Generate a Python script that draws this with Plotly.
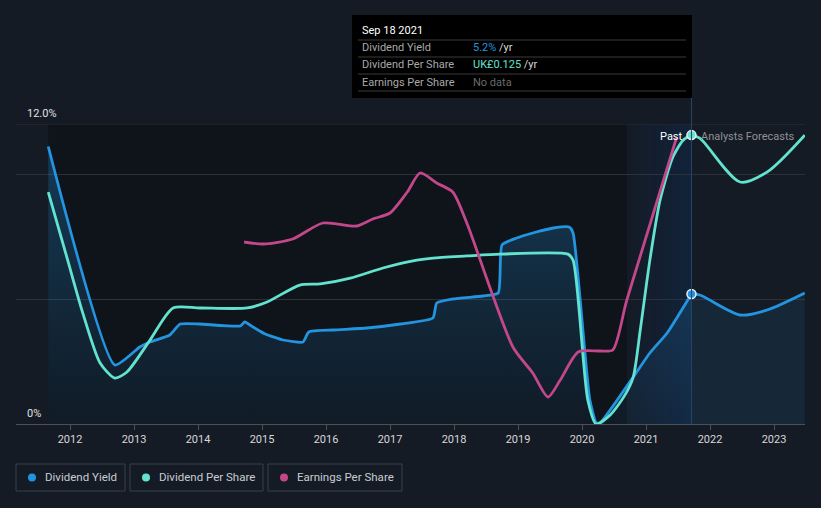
import plotly.graph_objects as go

# ---------------- data ----------------
yield_x = [2011.66, 2012.70, 2013.09, 2013.25, 2013.56, 2013.72, 2014.03, 2014.66, 2014.73, 2014.86,
           2015.05, 2015.33, 2015.64, 2015.73, 2016.11, 2016.64, 2017.16, 2017.67, 2017.73, 2017.98,
           2018.45, 2018.69, 2018.75, 2018.98, 2019.23, 2019.55, 2019.80, 2019.86, 2019.97, 2020.12,
           2020.22, 2020.28, 2020.80, 2021.06, 2021.33, 2021.71]
yield_y = [11.1, 2.36, 3.08, 3.28, 3.56, 4.0, 4.0, 3.92, 4.08, 3.88,
           3.6, 3.36, 3.28, 3.68, 3.76, 3.84, 4.0, 4.24, 4.84, 5.0,
           5.12, 5.24, 7.16, 7.44, 7.64, 7.84, 7.88, 7.64, 5.0, 1.0,
           0.05, 0.04, 1.88, 2.84, 3.64, 5.2]
yield_fc_x = [2021.71, 2021.84, 2022.47, 2022.89, 2023.48]
yield_fc_y = [5.2, 5.16, 4.36, 4.56, 5.24]

dps_x = [2011.66, 2011.95, 2012.20, 2012.47, 2012.70, 2012.89, 2013.25, 2013.61, 2014.03, 2014.77,
         2015.08, 2015.59, 2015.91, 2016.38, 2016.89, 2017.42, 2017.67, 2018.20, 2018.72, 2019.78,
         2019.86, 2020.09, 2020.22, 2020.44, 2020.67, 2020.80, 2020.91, 2021.06, 2021.22, 2021.42,
         2021.58, 2021.71]
dps_y = [0.1003, 0.0722, 0.0480, 0.0264, 0.0199, 0.0225, 0.0363, 0.0502, 0.0502, 0.0502,
         0.0528, 0.0601, 0.0606, 0.0631, 0.0675, 0.0709, 0.0718, 0.0727, 0.0735, 0.0735,
         0.0709, 0.0104, 0.0, 0.0039, 0.0125, 0.0203, 0.0407, 0.0709, 0.0969, 0.1155,
         0.1228, 0.125]
dps_fc_x = [2021.71, 2021.84, 2022.47, 2022.89, 2023.48]
dps_fc_y = [0.125, 0.1237, 0.1047, 0.1090, 0.125]

eps_x = [2014.72, 2015.02, 2015.48, 2015.95, 2016.48, 2016.73, 2017.00, 2017.27, 2017.47, 2017.73,
         2017.98, 2018.20, 2018.92, 2019.23, 2019.47, 2019.66, 2019.94, 2020.28, 2020.48, 2020.70,
         2021.48]
eps_y = [0.182, 0.180, 0.185, 0.201, 0.198, 0.205, 0.211, 0.232, 0.251, 0.241,
         0.232, 0.201, 0.077, 0.051, 0.027, 0.044, 0.072, 0.073, 0.074, 0.124,
         0.287]

years = list(range(2012, 2024))
year_labels = [str(y) for y in years]

now_x = 2021.71
hl_start = 2020.70
data_start = 2011.66

# ---------------- style ----------------
BG = "#151b25"
PAST_BG = "#0f131a"
BLUE = "#2394df"
TEAL = "#63e3cf"
PINK = "#c2478b"
FONT = "Roboto"

W, H = 821, 508
L, R, T, B = 16, 16, 124, 84
PW = W - L - R
PHt = H - T - B


def px(x):
    return (x - L) / PW


def py(y):
    return (H - B - y) / PHt


fig = go.Figure()

common = dict(mode="lines", hoverinfo="skip", showlegend=False)

fig.add_trace(go.Scatter(x=yield_x, y=yield_y, line=dict(color=BLUE, width=2.8, shape="spline", smoothing=0.5),
                         fill="tozeroy",
                         fillgradient=dict(type="vertical",
                                           colorscale=[[0, "rgba(35,148,223,0.06)"], [1, "rgba(35,148,223,0.30)"]]),
                         **common))
fig.add_trace(go.Scatter(x=yield_fc_x, y=yield_fc_y, line=dict(color=BLUE, width=2.8, shape="spline", smoothing=0.8),
                         fill="tozeroy", fillcolor="rgba(35,148,223,0.10)", **common))
fig.add_trace(go.Scatter(x=dps_x, y=dps_y, yaxis="y2", line=dict(color=TEAL, width=2.8, shape="spline", smoothing=0.7),
                         **common))
fig.add_trace(go.Scatter(x=dps_fc_x, y=dps_fc_y, yaxis="y2", line=dict(color=TEAL, width=2.8, shape="spline", smoothing=0.8),
                         **common))
fig.add_trace(go.Scatter(x=eps_x, y=eps_y, yaxis="y3", line=dict(color=PINK, width=2.8, shape="spline", smoothing=0.7),
                         **common))
# current markers
fig.add_trace(go.Scatter(x=[now_x], y=[yield_fc_y[0]], mode="markers", hoverinfo="skip", showlegend=False,
                         marker=dict(color=BLUE, size=9, line=dict(color="#e8f0f8", width=1.5))))
fig.add_trace(go.Scatter(x=[now_x], y=[dps_fc_y[0]], yaxis="y2", mode="markers", hoverinfo="skip", showlegend=False,
                         marker=dict(color=TEAL, size=9, line=dict(color="#e8f0f8", width=1.5))))

shapes = []
# dark past region
shapes.append(dict(type="rect", xref="x", yref="y", x0=data_start, x1=hl_start, y0=0, y1=11.97,
                   fillcolor=PAST_BG, line=dict(width=0), layer="below"))
# highlight gradient region (stacked strips)
n = 16
for i in range(n):
    a = 0.04 + 0.30 * (i / (n - 1))
    x0 = hl_start + (now_x - hl_start) * i / n
    x1 = hl_start + (now_x - hl_start) * (i + 1) / n
    shapes.append(dict(type="rect", xref="x", yref="y", x0=x0, x1=x1, y0=0, y1=11.97,
                       fillcolor=f"rgba(12,52,100,{a:.3f})", line=dict(width=0), layer="below"))
# 12% gridline drawn on top of the regions
shapes.append(dict(type="line", xref="paper", yref="y", x0=0, x1=1, y0=12, y1=12,
                   line=dict(color="#2c313a", width=1), layer="below"))
# vertical now line
shapes.append(dict(type="line", xref="x", yref="paper", x0=now_x, x1=now_x, y0=0, y1=py(98),
                   line=dict(color="#2a4462", width=1)))
# tooltip box
shapes.append(dict(type="rect", xref="paper", yref="paper", x0=px(352), x1=px(692), y0=py(15), y1=py(98),
                   fillcolor="#000000", line=dict(width=0)))
for ly in [40, 57, 74, 91]:
    shapes.append(dict(type="line", xref="paper", yref="paper", x0=px(358), x1=px(686), y0=py(ly), y1=py(ly),
                       line=dict(color="#3a3a3a", width=1)))
# legend boxes
legend_items = [("Dividend Yield", BLUE, 16, 125), ("Dividend Per Share", TEAL, 130, 263),
                ("Earnings Per Share", PINK, 268, 402)]
annotations = []
for label, col, bx0, bx1 in legend_items:
    shapes.append(dict(type="rect", xref="paper", yref="paper", x0=px(bx0), x1=px(bx1), y0=py(464), y1=py(491),
                       fillcolor="rgba(0,0,0,0)", line=dict(color="#3b414d", width=1)))
    shapes.append(dict(type="circle", xref="paper", yref="paper", x0=px(bx0 + 12), x1=px(bx0 + 20),
                       y0=py(473.5), y1=py(481.5), fillcolor=col, line=dict(width=0)))
    annotations.append(dict(xref="paper", yref="paper", x=px(bx0 + 27), y=py(477.5), xanchor="left", yanchor="middle",
                            text=label, showarrow=False, font=dict(color="#c8ccd2", size=11.5, family=FONT)))

# tooltip text
annotations.append(dict(xref="paper", yref="paper", x=px(360), y=py(30), xanchor="left", yanchor="middle",
                        text="Sep 18 2021", showarrow=False, font=dict(color="#ffffff", size=11, family=FONT)))
rows = [("Dividend Yield", f'<span style="color:{BLUE}">5.2%</span> /yr', 48),
        ("Dividend Per Share", f'<span style="color:{TEAL}">UK£0.125</span> /yr', 65),
        ("Earnings Per Share", '<span style="color:#6a6a6a">No data</span>', 82)]
for lab, val, ry in rows:
    annotations.append(dict(xref="paper", yref="paper", x=px(360), y=py(ry), xanchor="left", yanchor="middle",
                            text=lab, showarrow=False, font=dict(color="#a8a8a8", size=11, family=FONT)))
    annotations.append(dict(xref="paper", yref="paper", x=px(471), y=py(ry), xanchor="left", yanchor="middle",
                            text=val, showarrow=False, font=dict(color="#d8d8d8", size=11, family=FONT)))

# y labels
annotations.append(dict(xref="paper", yref="y", x=px(25), y=12, yshift=11, xanchor="left", yanchor="middle",
                        text="12.0%", showarrow=False, font=dict(color="#e0e0e0", size=11, family=FONT)))
annotations.append(dict(xref="paper", yref="y", x=px(25), y=0, yshift=11, xanchor="left", yanchor="middle",
                        text="0%", showarrow=False, font=dict(color="#e0e0e0", size=11, family=FONT)))
# Past / Forecast labels
annotations.append(dict(xref="x", yref="y", x=now_x, y=11.52, xshift=-6, xanchor="right", yanchor="middle",
                        text="Past", showarrow=False, font=dict(color="#ffffff", size=11, family=FONT)))
annotations.append(dict(xref="x", yref="y", x=now_x, y=11.52, xshift=8, xanchor="left", yanchor="middle",
                        text="Analysts Forecasts", showarrow=False, font=dict(color="#8e9196", size=11, family=FONT)))

fig.update_layout(
    width=W, height=H,
    margin=dict(l=L, r=R, t=T, b=B),
    paper_bgcolor=BG, plot_bgcolor=BG,
    font=dict(family=FONT, color="#d0d0d0"),
    showlegend=False,
    shapes=shapes,
    annotations=annotations,
    xaxis=dict(range=[2011.156, 2023.484], tickvals=years, ticktext=year_labels, showgrid=False, zeroline=False,
               ticks="outside", ticklen=5, tickcolor="#4a4f58", showline=True, linecolor="#4a4f58", linewidth=1,
               tickfont=dict(size=11, color="#d8d8d8", family=FONT), fixedrange=True),
    yaxis=dict(range=[0, 12], tickvals=[0, 5, 10, 12], showticklabels=False, gridcolor="#2c313a", gridwidth=1,
               zeroline=False, showline=False, fixedrange=True),
    yaxis2=dict(range=[0, 0.1298], overlaying="y", visible=False, fixedrange=True),
    yaxis3=dict(range=[0, 0.30], overlaying="y", visible=False, fixedrange=True),
)

fig.write_html("out.html", config={"displayModeBar": False},
               post_script="document.body.style.margin='0';document.body.style.background='#151b25';")
